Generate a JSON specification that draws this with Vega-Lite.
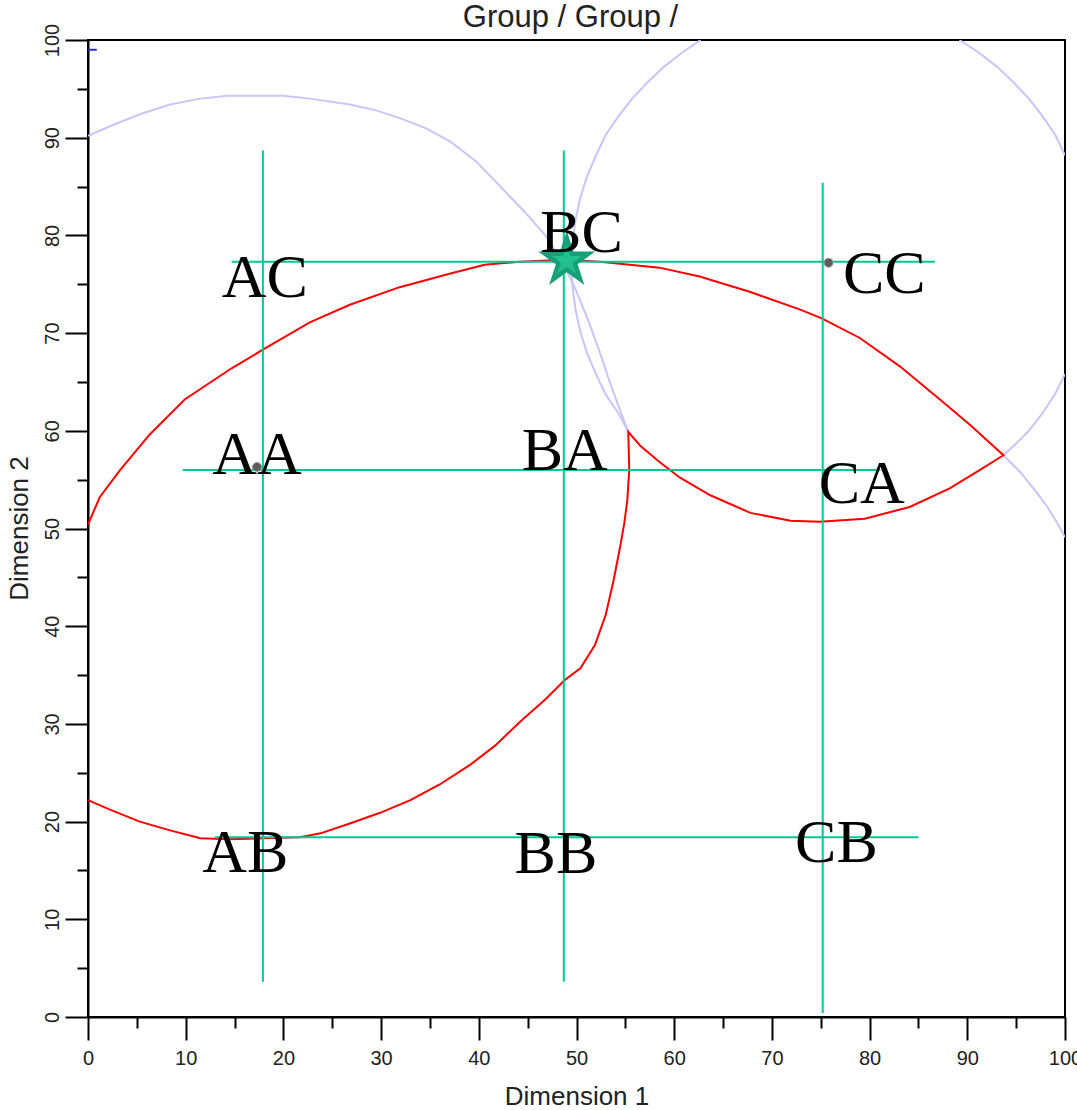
{
  "$schema": "https://vega.github.io/schema/vega-lite/v6.json",
  "width": 977,
  "height": 977,
  "autosize": {"type": "none"},
  "padding": {"left": 88, "top": 40, "right": 12, "bottom": 93},
  "background": "white",
  "title": {
    "text": "Group / Group /",
    "anchor": "middle",
    "frame": "group",
    "font": "Liberation Sans",
    "fontSize": 31,
    "fontWeight": "normal",
    "color": "#222222",
    "baseline": "alphabetic",
    "offset": -29,
    "dy": 6,
    "dx": -6
  },
  "datasets": {
    "arcs": [
      {"arc": "left", "i": 1, "x": 0, "y": 90.2},
      {"arc": "left", "i": 2, "x": 2.3, "y": 91.2},
      {"arc": "left", "i": 3, "x": 5.3, "y": 92.4},
      {"arc": "left", "i": 4, "x": 8.4, "y": 93.4},
      {"arc": "left", "i": 5, "x": 11.5, "y": 94.0},
      {"arc": "left", "i": 6, "x": 14.3, "y": 94.3},
      {"arc": "left", "i": 7, "x": 20.0, "y": 94.3},
      {"arc": "left", "i": 8, "x": 22.7, "y": 94.0},
      {"arc": "left", "i": 9, "x": 26.8, "y": 93.4},
      {"arc": "left", "i": 10, "x": 29.5, "y": 92.8},
      {"arc": "left", "i": 11, "x": 31.9, "y": 92.0},
      {"arc": "left", "i": 12, "x": 34.5, "y": 91.0},
      {"arc": "left", "i": 13, "x": 37.1, "y": 89.6},
      {"arc": "left", "i": 14, "x": 39.7, "y": 87.6},
      {"arc": "left", "i": 15, "x": 42.2, "y": 85.0},
      {"arc": "left", "i": 16, "x": 44.7, "y": 82.4},
      {"arc": "left", "i": 17, "x": 46.9, "y": 79.9},
      {"arc": "left", "i": 18, "x": 48.6, "y": 77.2},
      {"arc": "left", "i": 19, "x": 49.9, "y": 74.5},
      {"arc": "left", "i": 20, "x": 51.2, "y": 71.3},
      {"arc": "left", "i": 21, "x": 52.4, "y": 68.0},
      {"arc": "left", "i": 22, "x": 53.5, "y": 64.7},
      {"arc": "left", "i": 23, "x": 54.5, "y": 62.0},
      {"arc": "left", "i": 24, "x": 55.3, "y": 59.9},
      {"arc": "upper", "i": 1, "x": 55.3, "y": 59.9},
      {"arc": "upper", "i": 2, "x": 54.3, "y": 61.8},
      {"arc": "upper", "i": 3, "x": 53.0, "y": 63.7},
      {"arc": "upper", "i": 4, "x": 52.0, "y": 65.8},
      {"arc": "upper", "i": 5, "x": 51.1, "y": 67.9},
      {"arc": "upper", "i": 6, "x": 50.4, "y": 70.1},
      {"arc": "upper", "i": 7, "x": 49.9, "y": 72.4},
      {"arc": "upper", "i": 8, "x": 49.6, "y": 74.7},
      {"arc": "upper", "i": 9, "x": 49.5, "y": 77.0},
      {"arc": "upper", "i": 10, "x": 49.6, "y": 79.3},
      {"arc": "upper", "i": 11, "x": 49.9, "y": 81.6},
      {"arc": "upper", "i": 12, "x": 50.4, "y": 83.9},
      {"arc": "upper", "i": 13, "x": 51.1, "y": 86.1},
      {"arc": "upper", "i": 14, "x": 52.0, "y": 88.2},
      {"arc": "upper", "i": 15, "x": 53.0, "y": 90.3},
      {"arc": "upper", "i": 16, "x": 54.3, "y": 92.2},
      {"arc": "upper", "i": 17, "x": 55.7, "y": 94.0},
      {"arc": "upper", "i": 18, "x": 57.3, "y": 95.7},
      {"arc": "upper", "i": 19, "x": 59.0, "y": 97.3},
      {"arc": "upper", "i": 20, "x": 60.8, "y": 98.7},
      {"arc": "upper", "i": 21, "x": 62.7, "y": 100},
      {"arc": "topright", "i": 1, "x": 89.2, "y": 100},
      {"arc": "topright", "i": 2, "x": 91.2, "y": 98.7},
      {"arc": "topright", "i": 3, "x": 93.0, "y": 97.3},
      {"arc": "topright", "i": 4, "x": 94.7, "y": 95.7},
      {"arc": "topright", "i": 5, "x": 96.3, "y": 94.0},
      {"arc": "topright", "i": 6, "x": 97.7, "y": 92.2},
      {"arc": "topright", "i": 7, "x": 99.0, "y": 90.3},
      {"arc": "topright", "i": 8, "x": 100, "y": 88.2},
      {"arc": "midright", "i": 1, "x": 100, "y": 65.8},
      {"arc": "midright", "i": 2, "x": 99.0, "y": 63.8},
      {"arc": "midright", "i": 3, "x": 97.7, "y": 61.8},
      {"arc": "midright", "i": 4, "x": 96.3, "y": 60.0},
      {"arc": "midright", "i": 5, "x": 94.9, "y": 58.6},
      {"arc": "midright", "i": 6, "x": 93.7, "y": 57.5},
      {"arc": "lowright", "i": 1, "x": 93.7, "y": 57.5},
      {"arc": "lowright", "i": 2, "x": 95.4, "y": 55.8},
      {"arc": "lowright", "i": 3, "x": 97.1, "y": 53.7},
      {"arc": "lowright", "i": 4, "x": 98.2, "y": 52.2},
      {"arc": "lowright", "i": 5, "x": 99.3, "y": 50.4},
      {"arc": "lowright", "i": 6, "x": 100, "y": 49.1}
    ],
    "region": [
      {"i": 1, "x": 0, "y": 50.4},
      {"i": 2, "x": 1.2, "y": 53.2},
      {"i": 3, "x": 3.3, "y": 56.0},
      {"i": 4, "x": 6.3, "y": 59.6},
      {"i": 5, "x": 9.9, "y": 63.2},
      {"i": 6, "x": 14.7, "y": 66.4},
      {"i": 7, "x": 17.9, "y": 68.3},
      {"i": 8, "x": 22.7, "y": 71.1},
      {"i": 9, "x": 26.8, "y": 72.9},
      {"i": 10, "x": 31.9, "y": 74.7},
      {"i": 11, "x": 37.1, "y": 76.1},
      {"i": 12, "x": 40.6, "y": 77.0},
      {"i": 13, "x": 44.2, "y": 77.3},
      {"i": 14, "x": 48.8, "y": 77.5},
      {"i": 15, "x": 52.4, "y": 77.3},
      {"i": 16, "x": 58.5, "y": 76.7},
      {"i": 17, "x": 62.6, "y": 75.8},
      {"i": 18, "x": 67.8, "y": 74.2},
      {"i": 19, "x": 72.9, "y": 72.4},
      {"i": 20, "x": 75.1, "y": 71.5},
      {"i": 21, "x": 79.0, "y": 69.5},
      {"i": 22, "x": 83.1, "y": 66.6},
      {"i": 23, "x": 87.2, "y": 63.2},
      {"i": 24, "x": 90.3, "y": 60.6},
      {"i": 25, "x": 92.6, "y": 58.5},
      {"i": 26, "x": 93.7, "y": 57.5},
      {"i": 27, "x": 91.3, "y": 56.0},
      {"i": 28, "x": 88.2, "y": 54.1},
      {"i": 29, "x": 84.1, "y": 52.2},
      {"i": 30, "x": 79.5, "y": 51.0},
      {"i": 31, "x": 74.9, "y": 50.7},
      {"i": 32, "x": 71.9, "y": 50.8},
      {"i": 33, "x": 67.8, "y": 51.6},
      {"i": 34, "x": 63.7, "y": 53.4},
      {"i": 35, "x": 60.6, "y": 55.2},
      {"i": 36, "x": 58.5, "y": 56.8},
      {"i": 37, "x": 56.5, "y": 58.5},
      {"i": 38, "x": 55.3, "y": 59.9},
      {"i": 39, "x": 55.4, "y": 56.0},
      {"i": 40, "x": 55.2, "y": 52.9},
      {"i": 41, "x": 54.9, "y": 50.6},
      {"i": 42, "x": 54.5, "y": 48.3},
      {"i": 43, "x": 53.8, "y": 44.7},
      {"i": 44, "x": 53.0, "y": 41.2},
      {"i": 45, "x": 51.9, "y": 38.1},
      {"i": 46, "x": 50.4, "y": 35.7},
      {"i": 47, "x": 48.8, "y": 34.5},
      {"i": 48, "x": 46.8, "y": 32.5},
      {"i": 49, "x": 44.2, "y": 30.2},
      {"i": 50, "x": 41.7, "y": 27.8},
      {"i": 51, "x": 39.1, "y": 25.8},
      {"i": 52, "x": 36.0, "y": 23.8},
      {"i": 53, "x": 33.0, "y": 22.2},
      {"i": 54, "x": 29.9, "y": 20.9},
      {"i": 55, "x": 26.8, "y": 19.8},
      {"i": 56, "x": 23.8, "y": 18.8},
      {"i": 57, "x": 21.7, "y": 18.4},
      {"i": 58, "x": 17.9, "y": 18.3},
      {"i": 59, "x": 14.5, "y": 18.2},
      {"i": 60, "x": 11.5, "y": 18.3},
      {"i": 61, "x": 8.4, "y": 19.1},
      {"i": 62, "x": 5.3, "y": 20.0},
      {"i": 63, "x": 2.3, "y": 21.2},
      {"i": 64, "x": 0, "y": 22.2}
    ],
    "intervals": [
      {"x": 17.9, "y": 88.7, "x2": 17.9, "y2": 3.6},
      {"x": 48.7, "y": 88.7, "x2": 48.7, "y2": 3.6},
      {"x": 75.2, "y": 85.4, "x2": 75.2, "y2": 0.4},
      {"x": 14.7, "y": 77.3, "x2": 86.7, "y2": 77.3},
      {"x": 9.7, "y": 56.0, "x2": 81.1, "y2": 56.0},
      {"x": 13.0, "y": 18.4, "x2": 85.0, "y2": 18.4}
    ],
    "marker": [
      {"x": 0, "y": 99.0, "x2": 0.9, "y2": 99.0}
    ],
    "dots": [
      {"name": "AA", "x": 17.3, "y": 56.3},
      {"name": "CC", "x": 75.8, "y": 77.2}
    ],
    "ideal": [
      {"name": "BC", "x": 49.0, "y": 77.4}
    ],
    "labels": [
      {"name": "AC", "x": 18.1, "y": 73.7},
      {"name": "BC", "x": 50.5, "y": 78.3},
      {"name": "CC", "x": 81.5, "y": 74.1},
      {"name": "AA", "x": 17.3, "y": 55.6},
      {"name": "BA", "x": 48.8, "y": 56.0},
      {"name": "CA", "x": 79.2, "y": 52.6},
      {"name": "AB", "x": 16.1, "y": 14.8},
      {"name": "BB", "x": 47.9, "y": 14.7},
      {"name": "CB", "x": 76.6, "y": 15.9}
    ]
  },
  "layer": [
    {
      "data": {"name": "arcs"},
      "mark": {"type": "line", "color": "#c6c6fa", "strokeWidth": 2, "clip": true},
      "encoding": {
        "x": {
          "field": "x", "type": "quantitative",
          "scale": {"domain": [0, 100], "nice": false, "zero": false},
          "axis": {
            "title": "Dimension 1",
            "values": [0, 5, 10, 15, 20, 25, 30, 35, 40, 45, 50, 55, 60, 65, 70, 75, 80, 85, 90, 95, 100],
            "tickSize": {"condition": {"test": "datum.value % 10 === 0", "value": 23}, "value": 11},
            "labelExpr": "datum.value % 10 === 0 ? datum.label : ''",
            "labelPadding": 8,
            "labelBaseline": "top",
            "labelFlush": false,
            "labelOverlap": false,
            "titleY": 87,
            "titleBaseline": "alphabetic",
            "titleAlign": "center"
          }
        },
        "y": {
          "field": "y", "type": "quantitative",
          "scale": {"domain": [0, 100], "nice": false, "zero": false},
          "axis": {
            "title": "Dimension 2",
            "values": [0, 5, 10, 15, 20, 25, 30, 35, 40, 45, 50, 55, 60, 65, 70, 75, 80, 85, 90, 95, 100],
            "tickSize": {"condition": {"test": "datum.value % 10 === 0", "value": 23}, "value": 11},
            "labelExpr": "datum.value % 10 === 0 ? datum.label : ''",
            "labelAngle": -90,
            "labelAlign": "center",
            "labelBaseline": "bottom",
            "labelPadding": 3,
            "labelFlush": false,
            "labelOverlap": false,
            "titleAngle": -90,
            "titleX": -61,
            "titleY": 488,
            "titleAlign": "center",
            "titleBaseline": "alphabetic"
          }
        },
        "detail": {"field": "arc"},
        "order": {"field": "i", "type": "quantitative"}
      }
    },
    {
      "data": {"name": "region"},
      "mark": {"type": "line", "color": "#ff0000", "strokeWidth": 2},
      "encoding": {
        "x": {"field": "x", "type": "quantitative"},
        "y": {"field": "y", "type": "quantitative"},
        "order": {"field": "i", "type": "quantitative"}
      }
    },
    {
      "data": {"name": "marker"},
      "mark": {"type": "rule", "color": "#2a2ad0", "strokeWidth": 2},
      "encoding": {
        "x": {"field": "x", "type": "quantitative"},
        "y": {"field": "y", "type": "quantitative"},
        "x2": {"field": "x2"},
        "y2": {"field": "y2"}
      }
    },
    {
      "data": {"name": "intervals"},
      "mark": {"type": "rule", "color": "#00c896", "strokeWidth": 2},
      "encoding": {
        "x": {"field": "x", "type": "quantitative"},
        "y": {"field": "y", "type": "quantitative"},
        "x2": {"field": "x2"},
        "y2": {"field": "y2"}
      }
    },
    {
      "data": {"name": "dots"},
      "mark": {"type": "point", "shape": "circle", "filled": true, "size": 80, "color": "#5c5c5c", "stroke": "#9a9a9a", "strokeWidth": 1, "opacity": 1},
      "encoding": {
        "x": {"field": "x", "type": "quantitative"},
        "y": {"field": "y", "type": "quantitative"}
      }
    },
    {
      "data": {"name": "ideal"},
      "mark": {"type": "point", "shape": "M0,-1L0.2245,-0.309L0.951,-0.309L0.363,0.118L0.588,0.809L0,0.382L-0.588,0.809L-0.363,0.118L-0.951,-0.309L-0.2245,-0.309Z", "filled": true, "size": 3600, "color": "#17a077", "opacity": 1},
      "encoding": {
        "x": {"field": "x", "type": "quantitative"},
        "y": {"field": "y", "type": "quantitative"}
      }
    },
    {
      "data": {"name": "ideal"},
      "mark": {"type": "point", "shape": "M0,-1L0.2245,-0.309L0.951,-0.309L0.363,0.118L0.588,0.809L0,0.382L-0.588,0.809L-0.363,0.118L-0.951,-0.309L-0.2245,-0.309Z", "filled": true, "size": 1000, "color": "#22c08c", "opacity": 1},
      "encoding": {
        "x": {"field": "x", "type": "quantitative"},
        "y": {"field": "y", "type": "quantitative"}
      }
    },
    {
      "data": {"name": "labels"},
      "mark": {"type": "text", "font": "Liberation Serif", "fontSize": 62, "color": "#000000", "align": "center", "baseline": "alphabetic"},
      "encoding": {
        "x": {"field": "x", "type": "quantitative"},
        "y": {"field": "y", "type": "quantitative"},
        "text": {"field": "name"}
      }
    }
  ],
  "config": {
    "view": {"stroke": "#000000", "strokeWidth": 2},
    "axis": {
      "grid": false,
      "domainColor": "#000000",
      "domainWidth": 2,
      "tickColor": "#000000",
      "tickWidth": 2,
      "labelFont": "Liberation Sans",
      "labelFontSize": 20,
      "labelColor": "#222222",
      "titleFont": "Liberation Sans",
      "titleFontSize": 26,
      "titleFontWeight": "normal",
      "titleColor": "#222222"
    }
  }
}
